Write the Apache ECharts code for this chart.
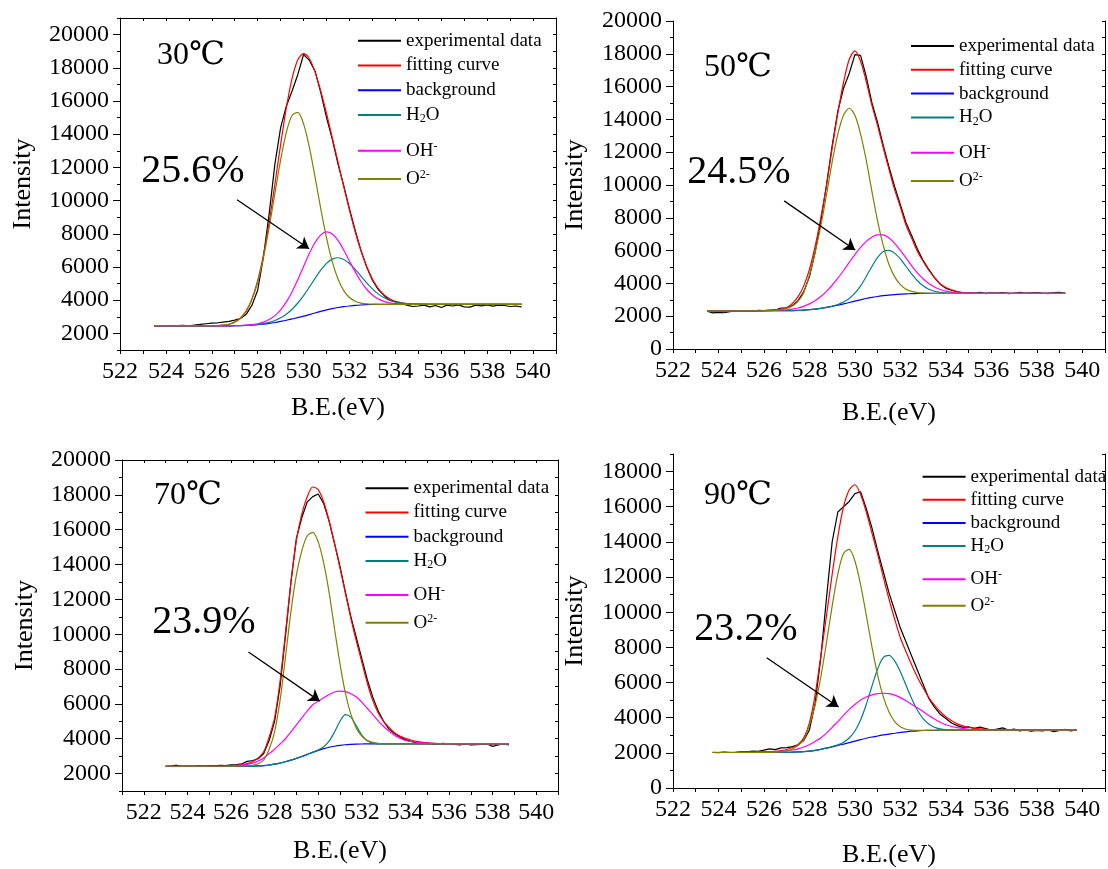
<!DOCTYPE html>
<html>
<head>
<meta charset="utf-8">
<title>O1s XPS fitting</title>
<script src="https://cdn.jsdelivr.net/npm/echarts@6.0.0/dist/echarts.min.js"></script>
<style>
html, body { margin: 0; padding: 0; background: #fff; }
#main { width: 1108px; height: 869px; }
</style>
</head>
<body>
<div id="main"></div>
<script>
// ---- data ----
var seriesNames = ['experimental data', 'fitting curve', 'background', 'H2O', 'OH-', 'O2-'];
var tempLabels = ['30℃', '50℃', '70℃', '90℃'];
var pctLabels = ['25.6%', '24.5%', '23.9%', '23.2%'];
var xTickLabels = [522, 524, 526, 528, 530, 532, 534, 536, 538, 540];
var p1YTicks = [2000, 4000, 6000, 8000, 10000, 12000, 14000, 16000, 18000, 20000];
var p2YTicks = [0, 2000, 4000, 6000, 8000, 10000, 12000, 14000, 16000, 18000, 20000];
var p3YTicks = [2000, 4000, 6000, 8000, 10000, 12000, 14000, 16000, 18000, 20000];
var p4YTicks = [0, 2000, 4000, 6000, 8000, 10000, 12000, 14000, 16000, 18000];

// panel 1 (30 C)
var p1ExpX = [523.5,523.75,524,524.25,524.5,524.75,525,525.25,525.5,525.75,526,526.25,526.5,526.75,527,527.25,527.5,527.75,528,528.25,528.5,528.75,529,529.25,529.5,529.75,530,530.25,530.5,530.75,531,531.25,531.5,531.75,532,532.25,532.5,532.75,533,533.25,533.5,533.75,534,534.25,534.5,534.75,535,535.25,535.5,535.75,536,536.25,536.5,536.75,537,537.25,537.5,537.75,538,538.25,538.5,538.75,539,539.25,539.5];
var p1ExpY = [2420,2440,2460,2450,2470,2480,2460,2500,2540,2580,2620,2640,2680,2720,2800,2900,3150,3700,4600,6600,9200,12200,14400,15700,16600,17600,18800,18450,17800,16500,15000,13700,12200,10900,9500,8200,7000,6000,5200,4650,4300,4000,3900,3800,3700,3620,3650,3700,3600,3680,3560,3700,3650,3720,3600,3580,3700,3660,3720,3640,3700,3680,3620,3650,3600];
var p1CompX = [523.5,525,526,526.5,526.75,527,527.25,527.5,527.75,528,528.25,528.5,528.75,529,529.25,529.5,529.75,530,530.25,530.5,530.75,531,531.25,531.5,531.75,532,532.25,532.5,532.75,533,533.25,533.5,533.75,534,534.5,535,535.5,536,537.5,539.5];
var p1Fit = [2450,2450,2458,2495,2552,2682,2927,3359,4080,5172,6718,8691,10983,13378,15603,17369,18478,18850,18561,17754,16596,15253,13798,12317,10841,9426,8122,6978,6025,5275,4721,4339,4090,3935,3797,3761,3752,3750,3750,3750];
var p1Bg = [2450,2450,2452,2455,2457,2460,2470,2480,2500,2520,2555,2600,2655,2720,2790,2870,2955,3040,3135,3230,3325,3420,3495,3560,3610,3650,3685,3710,3730,3740,3745,3750,3750,3750,3750,3750,3750,3750,3750,3750];
var p1H2O = [2450,2450,2452,2455,2457,2461,2472,2484,2508,2536,2590,2667,2780,2941,3160,3456,3831,4277,4787,5316,5809,6219,6475,6556,6457,6207,5853,5449,5047,4683,4382,4157,3997,3890,3789,3759,3752,3750,3750,3750];
var p1OH = [2450,2450,2452,2455,2458,2465,2476,2492,2530,2581,2678,2834,3073,3422,3898,4513,5242,6033,6814,7478,7932,8114,7988,7601,7024,6359,5704,5124,4660,4314,4079,3932,3843,3795,3758,3750,3750,3750,3750,3750];
var p1O2 = [2450,2450,2455,2495,2551,2675,2915,3340,4040,5095,6560,8390,10440,12455,14125,15140,15315,14620,13230,11420,9505,7760,6325,5280,4580,4160,3935,3825,3778,3758,3750,3750,3750,3750,3750,3750,3750,3750,3750,3750];
var p1Arrow = [[527.1, 10050], [530.24, 7100]];

// panel 2 (50 C)
var p2ExpX = [523.5,523.75,524,524.25,524.5,524.75,525,525.25,525.5,525.75,526,526.25,526.5,526.75,527,527.25,527.5,527.75,528,528.25,528.5,528.75,529,529.25,529.5,529.75,530,530.25,530.5,530.75,531,531.25,531.5,531.75,532,532.25,532.5,532.75,533,533.25,533.5,533.75,534,534.25,534.5,534.75,535,535.25,535.5,535.75,536,536.25,536.5,536.75,537,537.25,537.5,537.75,538,538.25,538.5,538.75,539,539.25];
var p2ExpY = [2300,2200,2230,2210,2280,2320,2300,2330,2310,2350,2340,2360,2380,2500,2500,2650,2950,3500,4400,5900,7800,10000,12400,14500,15900,16800,17950,17900,16600,15000,13800,12400,11100,9900,8800,7700,6900,6100,5400,4850,4350,3950,3700,3580,3480,3420,3440,3400,3460,3380,3420,3400,3440,3380,3400,3460,3390,3420,3440,3400,3380,3440,3460,3400];
var p2CompX = [523.5,525,526,526.5,526.75,527,527.25,527.5,527.75,528,528.25,528.5,528.75,529,529.25,529.5,529.75,530,530.25,530.5,530.75,531,531.25,531.5,531.75,532,532.25,532.5,532.75,533,533.25,533.5,533.75,534,534.5,535,535.5,536,537.5,539.25];
var p2Fit = [2330,2332,2345,2380,2420,2520,2780,3190,3850,4850,6250,8000,9950,12250,14400,16250,17650,18180,17550,16300,14850,13600,12250,10950,9700,8650,7550,6750,5950,5350,4800,4350,3980,3750,3500,3420,3395,3390,3390,3390];
var p2Bg = [2330,2330,2332,2333,2334,2335,2340,2350,2370,2400,2435,2480,2535,2600,2672,2750,2835,2920,3000,3080,3145,3200,3250,3290,3320,3345,3362,3375,3384,3390,3390,3390,3390,3390,3390,3390,3390,3390,3390,3390];
var p2H2O = [2330,2330,2332,2333,2334,2335,2340,2350,2370,2400,2435,2480,2538,2616,2717,2861,3079,3402,3849,4418,5034,5585,5945,6015,5847,5489,5031,4566,4163,3858,3647,3520,3450,3416,3392,3390,3390,3390,3390,3390];
var p2OH = [2330,2330,2337,2352,2369,2393,2435,2501,2603,2751,2944,3196,3510,3887,4316,4787,5279,5759,6193,6561,6820,6958,6954,6773,6445,6018,5544,5074,4645,4283,3993,3779,3629,3530,3432,3401,3393,3390,3390,3390];
var p2O2 = [2330,2330,2335,2360,2400,2470,2620,2900,3450,4500,5900,7500,9400,11400,13100,14250,14680,14250,13100,11500,9600,7800,6300,5150,4400,3930,3650,3510,3440,3410,3398,3392,3390,3390,3390,3390,3390,3390,3390,3390];
var p2Arrow = [[526.89, 9030], [530.01, 6040]];

// panel 3 (70 C)
var p3ExpX = [523,523.25,523.5,523.75,524,524.25,524.5,524.75,525,525.25,525.5,525.75,526,526.25,526.5,526.75,527,527.25,527.5,527.75,528,528.25,528.5,528.75,529,529.25,529.5,529.75,530,530.25,530.5,530.75,531,531.25,531.5,531.75,532,532.25,532.5,532.75,533,533.25,533.5,533.75,534,534.25,534.5,534.75,535,535.25,535.5,535.75,536,536.25,536.5,536.75,537,537.25,537.5,537.75,538,538.25,538.5,538.75];
var p3ExpY = [2420,2430,2480,2420,2430,2420,2440,2430,2450,2440,2470,2460,2500,2520,2560,2700,2750,2850,3150,3900,5000,7000,9900,13000,15500,16700,17600,17900,18050,17500,16500,15200,13900,12400,11000,9800,8600,7400,6400,5600,5000,4550,4300,4100,3950,3850,3780,3720,3760,3690,3700,3740,3690,3680,3650,3700,3640,3660,3680,3700,3560,3640,3700,3640];
var p3CompX = [523,525,526,526.5,526.75,527,527.25,527.5,527.75,528,528.25,528.5,528.75,529,529.25,529.5,529.75,530,530.25,530.5,530.75,531,531.25,531.5,531.75,532,532.25,532.5,532.75,533,533.25,533.5,533.75,534,534.5,535,535.5,536,537.5,538.75];
var p3Fit = [2420,2420,2445,2500,2575,2690,2900,3250,4100,5200,7300,10100,13000,15400,16900,17900,18450,18300,17600,16500,15200,13800,12350,10900,9600,8400,7200,6200,5500,5000,4650,4350,4150,4030,3850,3760,3720,3700,3700,3700];
var p3Bg = [2420,2420,2422,2425,2427,2430,2440,2460,2490,2540,2600,2680,2770,2870,2980,3100,3220,3330,3430,3510,3570,3620,3655,3675,3690,3698,3700,3700,3700,3700,3700,3700,3700,3700,3700,3700,3700,3700,3700,3700];
var p3H2O = [2420,2420,2422,2425,2427,2430,2440,2460,2490,2540,2600,2680,2770,2875,2985,3105,3230,3355,3540,3860,4385,5005,5380,5245,4736,4208,3882,3747,3708,3700,3700,3700,3700,3700,3700,3700,3700,3700,3700,3700];
var p3OH = [2420,2420,2435,2480,2530,2600,2720,2900,3150,3400,3700,4000,4400,4800,5200,5600,5950,6150,6350,6540,6680,6730,6700,6580,6400,6100,5750,5400,5020,4700,4440,4200,4030,3900,3800,3750,3720,3705,3700,3700];
var p3O2 = [2420,2420,2422,2440,2455,2480,2560,2780,3400,4400,6200,8700,11300,13400,14800,15650,15850,15300,14100,12400,10300,8300,6600,5400,4600,4150,3900,3790,3730,3710,3700,3700,3700,3700,3700,3700,3700,3700,3700,3700];
var p3Arrow = [[526.8, 8980], [530.07, 6160]];

// panel 4 (90 C)
var p4ExpX = [523.75,524,524.25,524.5,524.75,525,525.25,525.5,525.75,526,526.25,526.5,526.75,527,527.25,527.5,527.75,528,528.25,528.5,528.75,529,529.25,529.5,529.75,530,530.25,530.5,530.75,531,531.25,531.5,531.75,532,532.25,532.5,532.75,533,533.25,533.5,533.75,534,534.25,534.5,534.75,535,535.25,535.5,535.75,536,536.25,536.5,536.75,537,537.25,537.5,537.75,538,538.25,538.5,538.75,539,539.25,539.5,539.75];
var p4ExpY = [2030,2010,2040,2020,2030,2050,2060,2100,2080,2150,2230,2180,2280,2300,2350,2450,2700,3300,4800,7400,10800,14000,15700,16000,16300,16750,16850,15900,14800,13500,12300,11100,10100,9100,8300,7500,6700,5900,5100,4600,4200,3950,3700,3550,3450,3480,3400,3460,3380,3300,3350,3420,3300,3350,3250,3300,3230,3280,3250,3300,3200,3280,3330,3250,3300];
var p4CompX = [523.75,525,526,526.5,526.75,527,527.25,527.5,527.75,528,528.25,528.5,528.75,529,529.25,529.5,529.75,530,530.25,530.5,530.75,531,531.25,531.5,531.75,532,532.25,532.5,532.75,533,533.25,533.5,533.75,534,534.5,535,535.5,536,537.5,539.75];
var p4Fit = [2020,2025,2055,2090,2130,2190,2300,2480,2850,3700,5300,7500,9800,12150,14300,16000,16950,17250,16700,15700,14500,13300,12000,10750,9600,8550,7750,7000,6300,5700,5150,4720,4350,4050,3650,3450,3360,3310,3290,3290];
var p4Bg = [2020,2020,2025,2027,2028,2030,2038,2050,2070,2100,2145,2200,2265,2340,2420,2500,2585,2670,2750,2830,2900,2960,3020,3070,3115,3160,3198,3230,3255,3270,3280,3285,3288,3290,3290,3290,3290,3290,3290,3290];
var p4H2O = [2020,2020,2025,2027,2028,2030,2038,2050,2070,2100,2145,2200,2268,2350,2455,2601,2842,3243,3871,4752,5790,6772,7425,7547,7233,6614,5839,5072,4424,3947,3638,3457,3363,3320,3293,3290,3290,3290,3290,3290];
var p4OH = [2020,2022,2040,2065,2085,2115,2160,2230,2330,2460,2650,2850,3120,3450,3780,4130,4470,4750,5000,5180,5300,5370,5390,5370,5280,5140,4960,4760,4560,4350,4120,3920,3740,3600,3430,3340,3305,3292,3290,3290];
var p4O2 = [2020,2020,2030,2045,2065,2100,2220,2430,2750,3580,4720,6300,8270,10350,12170,13335,13570,12915,11571,9830,8034,6427,5184,4318,3774,3482,3344,3291,3278,3278,3283,3285,3288,3290,3290,3290,3290,3290,3290,3290];
var p4Arrow = [[526.12, 7410], [529.28, 4610]];

// ---- layout ----
var FONT = '"Liberation Serif", "Times New Roman", serif';
var colors = ['#000000', '#ff0000', '#0000ff', '#008080', '#ff00ff', '#808000'];

var panels = [
  { grid: {left: 120, top: 18, width: 436, height: 332}, xr: [522, 541], yr: [1000, 21000], yTicks: p1YTicks,
    expX: p1ExpX, expY: p1ExpY, compX: p1CompX, comps: [p1Fit, p1Bg, p1H2O, p1OH, p1O2], arrow: p1Arrow,
    xGap: 45, yGap: 84, leg: {left: 357, a: 40.7, ga: 4.8, b: 150.7, gb: 8.3}, temp: [191, 56], pct: [193, 171] },
  { grid: {left: 673, top: 21, width: 433, height: 328}, xr: [522, 541], yr: [0, 20000], yTicks: p2YTicks,
    expX: p2ExpX, expY: p2ExpY, compX: p2CompX, comps: [p2Fit, p2Bg, p2H2O, p2OH, p2O2], arrow: p2Arrow,
    xGap: 51, yGap: 85, leg: {left: 910, a: 46, ga: 3.8, b: 152.7, gb: 8.3}, temp: [738, 68], pct: [739, 172] },
  { grid: {left: 122, top: 460, width: 436, height: 331}, xr: [521, 541], yr: [1000, 20000], yTicks: p3YTicks,
    expX: p3ExpX, expY: p3ExpY, compX: p3CompX, comps: [p3Fit, p3Bg, p3H2O, p3OH, p3O2], arrow: p3Arrow,
    xGap: 47, yGap: 84, leg: {left: 364.5, a: 488.3, ga: 4.2, b: 595, gb: 7.7}, temp: [188, 496], pct: [204, 622] },
  { grid: {left: 673, top: 454, width: 433, height: 335}, xr: [522, 541], yr: [0, 19000], yTicks: p4YTicks,
    expX: p4ExpX, expY: p4ExpY, compX: p4CompX, comps: [p4Fit, p4Bg, p4H2O, p4OH, p4O2], arrow: p4Arrow,
    xGap: 54, yGap: 85, leg: {left: 921.6, a: 476.7, ga: 3.1, b: 579.3, gb: 6.4}, temp: [738, 496], pct: [746, 629] }
];

function zip(xs, ys) {
  return xs.map(function (x, i) { return [x, ys[i]]; });
}

function legendName(name) {
  if (name === 'H2O') return 'H{sub|2}O';
  if (name === 'OH-') return 'OH{sup|-}';
  if (name === 'O2-') return 'O{sup|2-}';
  return name;
}

var axisLine = {show: true, lineStyle: {color: '#000', width: 1}};
var tickLine = {color: '#000', width: 1};
var legendText = {
  fontFamily: FONT, fontSize: 19, color: '#000', lineHeight: 20,
  rich: {
    sub: {fontFamily: FONT, fontSize: 12, lineHeight: 12, verticalAlign: 'bottom', color: '#000'},
    sup: {fontFamily: FONT, fontSize: 12, lineHeight: 12, verticalAlign: 'top', color: '#000'}
  }
};

var grids = [], xAxes = [], yAxes = [], series = [], legends = [], graphics = [];

panels.forEach(function (p, i) {
  grids.push(p.grid);

  xAxes.push({
    type: 'value', gridIndex: i, position: 'bottom', min: p.xr[0], max: p.xr[1], interval: 1,
    axisLine: axisLine, axisTick: {length: 4, lineStyle: tickLine},
    axisLabel: {margin: 10, fontFamily: FONT, fontSize: 24, color: '#000',
      formatter: function (v) { return xTickLabels.indexOf(v) >= 0 ? String(v) : ''; }},
    splitLine: {show: false},
    name: 'B.E.(eV)', nameLocation: 'middle', nameGap: p.xGap,
    nameTextStyle: {fontFamily: FONT, fontSize: 26, color: '#000'}
  });
  xAxes.push({
    type: 'value', gridIndex: i, position: 'top', min: p.xr[0], max: p.xr[1], interval: 1,
    axisLine: axisLine, axisTick: {inside: true, length: 3, lineStyle: tickLine},
    axisLabel: {show: false}, splitLine: {show: false}
  });

  yAxes.push({
    type: 'value', gridIndex: i, position: 'left', min: p.yr[0], max: p.yr[1], interval: 1000,
    axisLine: axisLine, axisTick: {length: 3, lineStyle: tickLine},
    axisLabel: {margin: 11, fontFamily: FONT, fontSize: 24, color: '#000',
      formatter: function (v) { return p.yTicks.indexOf(v) >= 0 ? String(v) : ''; }},
    splitLine: {show: false},
    name: 'Intensity', nameLocation: 'middle', nameGap: p.yGap,
    nameTextStyle: {fontFamily: FONT, fontSize: 26, color: '#000'}
  });
  // longer ticks at the labelled values
  yAxes.push({
    type: 'value', gridIndex: i, position: 'left', min: p.yr[0], max: p.yr[1], interval: 1000,
    axisLine: {show: false}, axisTick: {length: 7, lineStyle: tickLine, customValues: p.yTicks},
    axisLabel: {show: false}, splitLine: {show: false}
  });
  yAxes.push({
    type: 'value', gridIndex: i, position: 'right', min: p.yr[0], max: p.yr[1], interval: 1000,
    axisLine: axisLine, axisTick: {inside: true, length: 3, lineStyle: tickLine},
    axisLabel: {show: false}, splitLine: {show: false}
  });

  var curves = [zip(p.expX, p.expY)].concat(p.comps.map(function (c) { return zip(p.compX, c); }));
  curves.forEach(function (d, k) {
    var s = {
      name: seriesNames[k], type: 'line', xAxisIndex: i * 2, yAxisIndex: i * 3,
      data: d, symbol: 'none', smooth: k === 0 ? false : 0.3,
      lineStyle: {color: colors[k], width: 1.2}, itemStyle: {color: colors[k]},
      silent: true, z: 2
    };
    if (k === 0) {
      s.markLine = {
        silent: true, symbol: ['none', 'arrow'], symbolSize: 11,
        lineStyle: {color: '#000', width: 1.3, type: 'solid'},
        label: {show: false},
        data: [[{coord: p.arrow[0]}, {coord: p.arrow[1]}]]
      };
    }
    series.push(s);
  });

  // legend: line sample only, no marker
  var legBase = {
    orient: 'vertical', left: p.leg.left, padding: 0, itemWidth: 43, itemHeight: 14,
    selectedMode: false, textStyle: legendText, formatter: legendName,
    itemStyle: {color: 'transparent', borderColor: 'transparent', borderWidth: 0, opacity: 0}
  };
  legends.push(Object.assign({}, legBase, {top: p.leg.a - 10, itemGap: p.leg.ga, data: seriesNames.slice(0, 4)}));
  legends.push(Object.assign({}, legBase, {top: p.leg.b - 10, itemGap: p.leg.gb, data: seriesNames.slice(4)}));

  graphics.push({
    type: 'text', x: p.temp[0], y: p.temp[1], silent: true,
    style: {text: tempLabels[i], font: '32px ' + FONT + ', "DejaVu Serif"', fill: '#000',
      textAlign: 'center', textVerticalAlign: 'middle', align: 'center', verticalAlign: 'middle'}
  });
  graphics.push({
    type: 'text', x: p.pct[0], y: p.pct[1], silent: true,
    style: {text: pctLabels[i], font: '40px ' + FONT, fill: '#000',
      textAlign: 'center', textVerticalAlign: 'middle', align: 'center', verticalAlign: 'middle'}
  });
});

var chart = echarts.init(document.getElementById('main'));
chart.setOption({
  backgroundColor: '#ffffff',
  animation: false,
  grid: grids,
  xAxis: xAxes,
  yAxis: yAxes,
  legend: legends,
  graphic: graphics,
  series: series
});
</script>
</body>
</html>
